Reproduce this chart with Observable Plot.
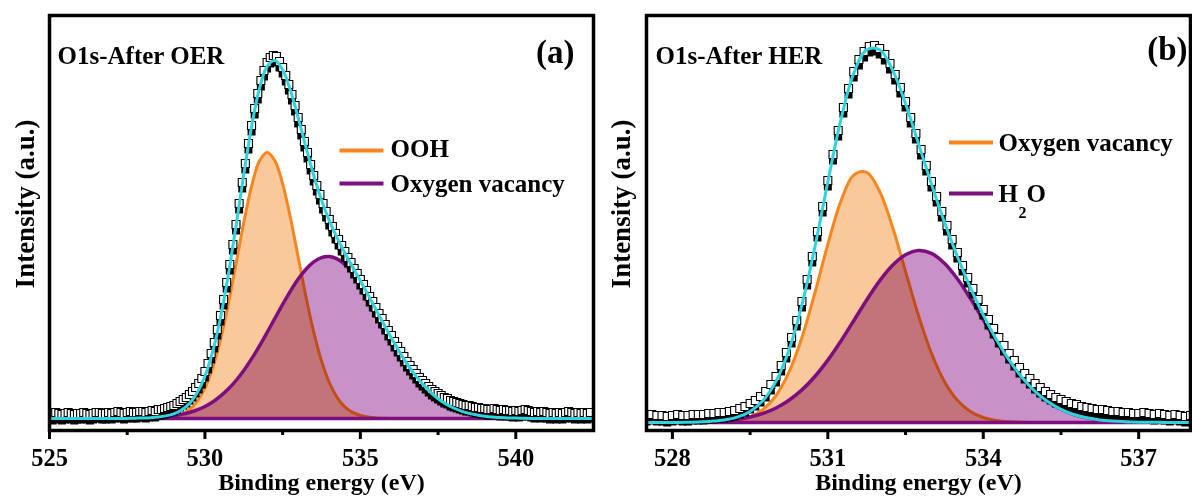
<!DOCTYPE html>
<html><head><meta charset="utf-8">
<script src="https://cdn.jsdelivr.net/npm/d3@7"></script>
<script src="https://cdn.jsdelivr.net/npm/@observablehq/plot@0.6"></script>
<style>
html,body{margin:0;padding:0;background:#fff;}
#wrap{display:flex;width:1192px;height:502px;overflow:hidden;background:#fff;}
</style></head><body><div id="wrap"></div>
<script>
// ---------- Panel (a): O1s after OER ----------
const aTitle = "O1s-After OER";
const aTag = "(a)";
const aLegend = ["OOH", "Oxygen vacancy"];
const aTicks = [525, 530, 535, 540];
const aMinorTicks = [527.5, 532.5, 537.5];
// measured points (a.u.), 0.1 eV step from 525.0 eV
const aDataStart = 525.0, aDataStep = 0.1;
const aData = [
  5,4,6,5,4,5,6,5,4,5,
  5,6,5,4,5,6,6,5,5,6,
  5,6,7,6,5,6,7,6,6,7,
  7,6,7,8,7,9,9,10,11,12,
  13,15,17,19,21,24,27,31,35,40,
  47,55,65,76,89,103,119,136,154,174,
  194,215,236,255,275,293,310,325,338,348,
  356,361,363,362,357,351,343,334,324,313,
  301,289,277,266,254,243,233,224,215,207,
  199,192,185,179,173,167,161,156,150,145,
  139,134,128,122,117,111,105,100,94,88,
  83,77,72,67,62,57,53,49,45,41,
  38,35,32,29,27,25,23,21,20,18,
  17,16,15,14,13,13,12,11,11,10,
  10,9,9,10,9,8,9,8,8,7,
  8,7,8,9,8,7,6,7,6,7,
  6,5,6,5,6,5,6,7,6,5,
  6,5,6,5,6
];
// fitted envelope, 0.25 eV step from 525.0 eV
const aEnvStart = 525.0, aFitStep = 0.25;
const aEnvelope = [
  0,0,0,0,0,0,0,0,0,0,0,0.3,
  0.5,0.85,1.5,2.65,4.7,8.5,15.0,25.7,42.3,67.0,100.8,143.3,192.6,244.1,291.8,329.5,
  352.0,357.9,348.8,328.2,300.7,271.1,243.0,218.5,197.9,180.8,165.7,151.7,137.8,123.6,
  109.1,94.6,80.4,67.1,54.8,43.9,34.4,26.4,19.8,14.6,10.5,7.4,5.1,3.5,2.3,1.5,1.0,0.6,
  0.4,0.2,0.1,
  0,0,0,0,0,0,0,0
];
// OOH component, from 528.0 eV
const aOohStart = 528.0;
const aOoh = [
  0,0.13,0.35,0.86,2.0,4.4,9.0,17.1,30.3,50.5,78.5,113.9,154.6,196.0,232.2,257.2,
  266,257.8,234.7,200.8,161.3,121.8,86.4,57.6,36.0,21.2,11.7,6.1,3.0,1.4,0.6,0.2,0
];
// oxygen vacancy component, from 528.0 eV
const aVacStart = 528.0;
const aVac = [
  0.44,0.72,1.15,1.79,2.7,4.1,6.0,8.6,12.0,16.5,22.3,29.4,38.0,48.1,59.6,72.3,
  86.0,100.1,114.1,127.4,139.4,149.3,156.6,160.9,161.9,159.6,154.0,145.6,134.8,122.2,108.5,94.4,
  80.4,67.1,54.8,43.9,34.4,26.4,19.8,14.6,10.5,7.4,5.1,3.5,2.3,1.5,1.0,0.6,0.4,0.2,0.1,0,0
];

// ---------- Panel (b): O1s after HER ----------
const bTitle = "O1s-After HER";
const bTag = "(b)";
const bLegend = ["Oxygen vacancy", "H", "2", "O"];
const bTicks = [528, 531, 534, 537];
const bMinorTicks = [529.5, 532.5, 535.5];
const bDataStart = 527.5, bDataStep = 0.1;
const bData = [
  7,8,7,7,6,7,8,7,7,8,
  8,8,9,9,10,10,11,12,14,16,
  19,22,26,31,38,46,57,70,85,102,
  121,143,166,191,216,242,268,292,315,334,
  351,363,371,376,377,374,368,359,348,335,
  321,305,289,273,257,241,226,211,197,183,
  170,157,145,134,123,113,103,94,85,77,
  69,62,55,49,44,39,35,31,28,25,
  23,21,19,18,16,15,14,13,13,12,
  11,11,10,10,9,9,10,9,8,9,
  8,7,8,7,6,7
];
const bEnvStart = 527.5, bFitStep = 0.25;
const bEnvelope = [
  0,0,0.1,0.2,0.6,1.3,2.6,5.4,11.1,22.1,41.4,72.5,117.6,175.5,240.5,302.3,349.2,372.7,
  372.7,352.4,318.7,278.9,238.4,200.4,166.0,135.2,107.6,83.3,62.4,45.0,31.2,20.7,13.2,8.0,
  4.7,2.6,1.4,0.7,0.35,0.2,0.1,0,0
];
const bVacStart = 528.5;
const bVac = [
  0.07,0.25,0.8,2.2,5.6,13.0,26.9,50.3,85.0,129.5,178.1,221.0,247.4,250.2,
  231.1,195.2,151.0,106.9,69.3,41.1,22.3,11.1,5.0,2.1,0.8,0.3,0.1
];
const bH2oStart = 528.0;
const bH2o = [
  0.1,0.25,0.5,1.0,1.8,3.2,5.5,9.1,14.5,22.2,32.6,46.0,62.4,81.3,101.8,122.5,
  141.6,157.2,167.7,172.0,169.1,159.3,143.7,124.1,102.6,81.2,61.6,44.7,31.1,20.7,13.2,8.0,
  4.7,2.6,1.4,0.7,0.35,0.2,0.1
];

const xLabel = "Binding energy (eV)";
const yLabel = "Intensity (a.u.)";

// ---------- helpers ----------
const series = (start, step, arr) => arr.map((v, i) => ({e: +(start + i * step).toFixed(3), v}));
const ORANGE = "#F7861E", ORANGE_FILL = "#F9C99B";
const PURPLE = "#7E0E80", PURPLE_FILL = "#C892C9";
const CYAN = "#2ED3DF";
const FONT = "'Liberation Serif','Times New Roman',serif";
const CURVE = "catmull-rom";
const segment = {draw(ctx) { ctx.moveTo(-22, 0); ctx.lineTo(22, 0); }};

function panel(o) {
  const legendMarks = o.legend.map(l => l.kind === "line"
    ? Plot.dot([0], {frameAnchor: "top-left", dx: l.dx, dy: l.dy, symbol: segment, stroke: l.color, strokeWidth: 4, fill: "none"})
    : Plot.text([l.text], {text: d => d, frameAnchor: "top-left", dx: l.dx, dy: l.dy, textAnchor: "start", lineAnchor: "middle", fontSize: l.size || 25, fill: "black"}));
  const svg = Plot.plot({
    width: 596, height: 502,
    marginLeft: o.ml, marginRight: o.mr, marginTop: 15, marginBottom: 72,
    x: {domain: o.xd},
    y: {domain: o.yd, axis: null},
    style: {fontFamily: FONT, fontWeight: "bold", background: "white", color: "black", overflow: "visible"},
    marks: [
      Plot.areaY(o.c1, {x: "e", y: "v", fill: ORANGE_FILL, curve: CURVE}),
      Plot.lineY(o.c1, {x: "e", y: "v", stroke: ORANGE, strokeWidth: 3, curve: CURVE}),
      Plot.areaY(o.c2, {x: "e", y: "v", fill: PURPLE_FILL, mixBlendMode: "multiply", curve: CURVE}),
      Plot.lineY(o.c2, {x: "e", y: "v", stroke: PURPLE, strokeWidth: 3.5, curve: CURVE}),
      Plot.lineY(o.c2, {x: "e", y: () => 0, stroke: PURPLE, strokeWidth: 3.5}),
      Plot.dot(o.data, {x: "e", y: "v", symbol: "square", r: 4.5, fill: "black", dy: 6, clip: true}),
      Plot.dot(o.data, {x: "e", y: "v", symbol: "square", r: 4.5, fill: "white", stroke: "black", strokeWidth: 1.1, clip: true}),
      Plot.lineY(o.env, {x: "e", y: "v", stroke: CYAN, strokeWidth: 3, curve: CURVE}),
      Plot.frame({stroke: "black", strokeWidth: 3.5}),
      Plot.axisX({ticks: o.major, tickSize: 9, tickPadding: 9, strokeWidth: 3, fontSize: 24.5, label: null, tickFormat: d => String(d)}),
      Plot.axisX({ticks: o.minor, tickSize: 5, strokeWidth: 3, label: null, tickFormat: () => ""}),
      Plot.text([o.title], {text: d => d, frameAnchor: "top-left", dx: o.titleDx, dy: 40, textAnchor: "start", lineAnchor: "middle", fontSize: 25, fill: "black"}),
      Plot.text([o.tag], {text: d => d, frameAnchor: "top-right", dx: o.tagDx, dy: o.tagDy, textAnchor: "end", lineAnchor: "middle", fontSize: 33, fill: "black"}),
      Plot.text([xLabel], {text: d => d, frameAnchor: "bottom", dy: 52, textAnchor: "middle", lineAnchor: "middle", fontSize: 24, fill: "black"}),
      Plot.text([yLabel], {text: d => d, frameAnchor: "left", rotate: -90, dx: o.ylDx, dy: -19, textAnchor: "middle", lineAnchor: "middle", fontSize: 27, fill: "black"}),
      ...legendMarks
    ]
  });
  // make sure the purple fill multiplies with what lies beneath (overlap turns dusty rose)
  svg.querySelectorAll("[fill]").forEach(el => {
    if ((el.getAttribute("fill") || "").toUpperCase() === PURPLE_FILL.toUpperCase()) el.style.mixBlendMode = "multiply";
  });
  return svg;
}

const wrap = document.getElementById("wrap");
wrap.appendChild(panel({
  ml: 49, mr: 3, xd: [525, 542.5], yd: [-12, 403],
  data: series(aDataStart, aDataStep, aData),
  env: series(aEnvStart, aFitStep, aEnvelope),
  c1: series(aOohStart, aFitStep, aOoh),
  c2: series(aVacStart, aFitStep, aVac),
  major: aTicks, minor: aMinorTicks,
  title: aTitle, titleDx: 8, tag: aTag, tagDx: -19, tagDy: 37, ylDx: -24,
  legend: [
    {kind: "line", color: ORANGE, dx: 312, dy: 135},
    {kind: "text", text: aLegend[0], dx: 341, dy: 133},
    {kind: "line", color: PURPLE, dx: 312, dy: 168},
    {kind: "text", text: aLegend[1], dx: 341, dy: 168}
  ]
}));
wrap.appendChild(panel({
  ml: 50, mr: 2, xd: [527.5, 538], yd: [-8, 407],
  data: series(bDataStart, bDataStep, bData),
  env: series(bEnvStart, bFitStep, bEnvelope),
  c1: series(bVacStart, bFitStep, bVac),
  c2: series(bH2oStart, bFitStep, bH2o),
  major: bTicks, minor: bMinorTicks,
  title: bTitle, titleDx: 9, tag: bTag, tagDx: -3, tagDy: 34, ylDx: -25,
  legend: [
    {kind: "line", color: ORANGE, dx: 324.5, dy: 127},
    {kind: "text", text: bLegend[0], dx: 352, dy: 127},
    {kind: "line", color: PURPLE, dx: 324.5, dy: 178},
    {kind: "text", text: bLegend[1], dx: 352, dy: 178},
    {kind: "text", text: bLegend[2], dx: 372, dy: 197, size: 16},
    {kind: "text", text: bLegend[3], dx: 380, dy: 178}
  ]
}));
</script>
</body></html>
